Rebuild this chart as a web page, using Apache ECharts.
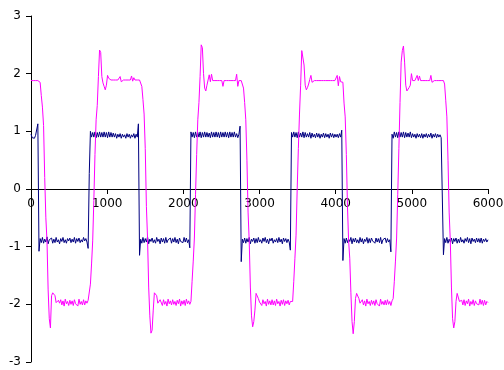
<!DOCTYPE html>
<html>
<head>
<meta charset="utf-8">
<script src="https://cdn.jsdelivr.net/npm/echarts@6/dist/echarts.min.js"></script>
<style>
html,body{margin:0;padding:0;background:#fff;}
#chart{width:504px;height:370px;}
</style>
</head>
<body>
<div id="chart"></div>
<script>
// sample spacing of the traces along x (units)
var STEP = 15;
var xTicks = [0, 1000, 2000, 3000, 4000, 5000, 6000];
var yTicks = [-3, -2, -1, 0, 1, 2, 3];

// navy trace (square wave with ripple), one value every STEP units from x=0
var navyValues = [
0.95,0.89,0.92,0.88,0.93,0.91,1.13,
-1.08,
-0.86,-0.93,-0.84,-0.94,-0.87,-0.92,-0.83,-0.95,-0.88,-0.91,
-0.85,-0.94,-0.87,-0.93,-0.84,-0.92,-0.88,-0.95,-0.86,-0.91,
-0.84,-0.93,-0.88,-0.94,-0.86,-0.90,-0.85,-0.93,-0.87,-0.92,
-0.84,-0.94,-0.86,-0.91,-0.85,-0.93,-0.88,-0.92,-0.84,-0.90,
-0.86,-0.92,-1.03,
0.27,
1.00,0.90,0.98,0.90,0.99,0.89,0.98,0.90,0.99,0.90,
0.98,0.90,0.99,0.90,0.98,0.89,0.99,0.90,0.98,0.90,
0.97,0.90,0.96,0.88,0.95,0.90,0.96,0.88,0.95,0.90,
0.94,0.88,0.96,0.90,0.95,0.88,0.94,0.90,0.96,0.88,
0.95,0.90,
1.13,
-1.15,
-0.87,-0.94,-0.84,-0.93,-0.86,-0.92,-0.83,-0.95,-0.87,-0.91,
-0.85,-0.93,-0.88,-0.94,-0.84,-0.91,-0.87,-0.95,-0.85,-0.92,
-0.86,-0.94,-0.84,-0.93,-0.88,-0.91,-0.85,-0.94,-0.86,-0.92,
-0.84,-0.93,-0.87,-0.95,-0.85,-0.91,-0.88,-0.93,-0.84,-0.92,
-0.85,-0.93,-0.88,
-1.02,
0.99,0.90,0.98,0.89,0.99,0.90,0.98,0.90,0.99,0.89,
0.98,0.90,0.99,0.90,0.98,0.90,0.97,0.89,0.99,0.90,
0.98,0.90,0.99,0.90,0.98,0.89,0.99,0.90,0.98,0.90,
0.99,0.90,0.98,0.89,0.99,0.90,0.98,0.90,0.99,0.90,
0.96,0.89,0.95,
1.09,
-1.26,
-0.87,-0.93,-0.85,-0.94,-0.86,-0.92,-0.84,-0.95,-0.87,-0.91,
-0.85,-0.94,-0.86,-0.93,-0.84,-0.92,-0.88,-0.94,-0.85,-0.91,
-0.84,-0.93,-0.87,-0.95,-0.86,-0.90,-0.85,-0.94,-0.88,-0.92,
-0.86,-0.93,-0.84,-0.92,-0.87,-0.95,-0.85,-0.91,-0.86,-0.93,
-0.87,-0.92,
-1.06,
0.98,0.90,0.99,0.90,0.98,0.89,0.99,0.90,0.97,0.90,
0.99,0.89,0.98,0.90,0.96,0.90,0.98,0.88,0.97,0.90,
0.95,0.89,0.97,0.90,0.96,0.88,0.95,0.90,0.97,0.89,
0.96,0.90,0.95,0.88,0.97,0.90,0.96,0.89,0.95,0.90,
0.95,0.89,0.96,0.90,
1.02,
-1.24,
-0.86,-0.94,-0.85,-0.93,-0.87,-0.91,-0.84,-0.95,-0.86,-0.92,
-0.85,-0.93,-0.88,-0.94,-0.84,-0.92,-0.86,-0.95,-0.87,-0.91,
-0.84,-0.94,-0.86,-0.93,-0.85,-0.90,-0.87,-0.94,-0.85,-0.92,
-0.86,-0.93,-0.84,-0.95,-0.88,-0.91,-0.85,-0.93,-0.86,-0.92,
-0.88,
-1.09,
0.95,0.88,0.99,0.90,0.98,0.89,0.99,0.90,0.98,0.90,
0.99,0.89,0.98,0.90,0.97,0.90,0.99,0.89,0.96,0.90,
0.95,0.88,0.96,0.90,0.95,0.89,0.96,0.88,0.95,0.90,
0.96,0.89,0.95,0.90,0.97,0.88,0.95,0.90,0.96,0.89,
0.95,0.90,0.94,0.89,0.90,
-1.14,
-0.86,-0.93,-0.84,-0.94,-0.87,-0.92,-0.85,-0.95,-0.86,-0.91,
-0.85,-0.94,-0.87,-0.93,-0.84,-0.92,-0.88,-0.94,-0.86,-0.91,
-0.84,-0.93,-0.86,-0.95,-0.85,-0.91,-0.87,-0.93,-0.85,-0.92,
-0.86,-0.93,-0.85,-0.94,-0.87,-0.91,-0.86,-0.92,-0.88
];

// magenta trace (filtered wave with overshoot), one value every STEP units from x=0
var magentaValues = [
1.88,1.88,1.88,1.88,1.88,1.88,1.88,1.88,
1.85,1.62,1.42,1.10,0.20,-0.50,-0.90,-1.75,-2.25,-2.41,-1.85,-1.80,-1.80,-1.85,-1.97,-2.00,-1.93,-1.98,
-1.92,-2.01,-1.94,-2.03,-1.91,-1.99,-1.95,-2.02,-1.93,-2.00,
-1.94,-2.02,-1.92,-1.99,-1.96,-2.03,-1.91,-2.00,-1.95,-2.01,
-1.92,-2.01,-1.94,-1.98,-1.93,-1.95,
-1.65,-1.30,-0.90,-0.20,0.60,1.20,1.45,1.95,2.41,2.37,1.95,1.84,1.78,1.72,1.80,1.97,1.92,1.89,
1.89,1.89,1.89,1.89,1.89,1.89,1.89,1.89,1.95,1.86,
1.89,1.89,1.89,1.89,1.89,1.89,1.89,1.89,1.96,1.87,1.93,
1.89,1.89,1.89,1.89,1.89,1.88,
1.78,1.55,1.30,0.70,-0.30,-0.85,-1.70,-2.20,-2.50,-2.45,-2.10,-1.80,-1.80,-1.85,-1.98,-2.00,-1.92,
-1.94,-2.02,-1.92,-2.00,-1.95,-2.03,-1.91,-1.99,-1.94,-2.01,
-1.92,-2.00,-1.95,-2.02,-1.93,-1.99,-1.91,-2.03,-1.94,-2.00,
-1.93,-2.02,-1.91,-1.99,-1.94,-2.00,-1.95,
-1.60,-1.25,-0.85,-0.10,0.60,1.20,1.50,1.95,2.50,2.45,2.00,1.75,1.70,1.80,1.89,1.98,1.86,1.99,
1.88,1.88,1.88,1.88,1.88,1.88,1.88,1.88,1.88,1.78,
1.88,1.88,1.88,1.88,1.88,1.88,1.88,1.88,1.88,1.88,1.88,
1.99,1.78,1.88,1.88,1.88,
1.88,1.75,1.50,1.20,0.50,-0.40,-0.90,-1.70,-2.20,-2.39,-2.30,-2.10,-1.81,-1.81,-1.90,-1.96,
-1.93,-2.02,-1.92,-1.99,-1.95,-2.03,-1.91,-2.00,-1.94,-2.01,
-1.92,-2.01,-1.94,-2.02,-1.91,-1.99,-1.95,-2.03,-1.93,-2.00,
-1.92,-2.02,-1.94,-1.99,-1.93,-2.01,-1.95,-1.98,-1.95,
-1.60,-1.20,-0.80,0.00,0.70,1.30,1.80,2.40,2.38,2.15,1.80,1.72,1.76,1.82,1.90,1.97,1.85,1.88,
1.88,1.88,1.88,1.88,1.88,1.88,1.88,1.88,1.88,1.88,
1.88,1.88,1.88,1.88,1.88,1.88,1.88,1.88,1.88,1.88,
1.97,1.79,1.95,1.86,1.88,1.85,
1.49,1.25,0.60,-0.30,-0.90,-1.20,-1.80,-2.30,-2.51,-2.30,-1.90,-1.81,-1.81,-1.90,-1.98,-1.95,
-1.92,-2.01,-1.94,-2.03,-1.91,-1.99,-1.95,-2.02,-1.93,-2.00,
-1.94,-2.02,-1.92,-1.99,-1.96,-2.03,-1.91,-2.00,-1.95,-2.01,
-1.93,-2.01,-1.92,-2.00,-1.95,-2.02,-1.94,-1.90,
-1.60,-1.25,-0.85,-0.10,0.70,1.50,2.20,2.40,2.48,2.20,1.80,1.70,1.72,1.76,1.80,2.00,1.88,
1.88,1.88,1.88,1.97,1.88,1.96,
1.88,1.88,1.88,1.88,1.88,1.88,1.88,1.88,1.88,1.97,1.85,
1.88,1.88,1.88,1.88,1.88,1.88,1.88,1.88,1.88,1.88,1.82,
1.54,1.25,0.50,-0.40,-0.90,-1.70,-2.25,-2.41,-2.30,-1.95,-1.81,-1.81,-1.95,-1.98,
-1.93,-2.01,-1.92,-2.02,-1.94,-1.99,-1.91,-2.03,-1.95,-2.00,
-1.92,-2.02,-1.94,-1.99,-1.96,-2.01,-1.91,-2.00,-1.93,-2.02,
-1.93,-2.01,-1.95,-1.97
];

function toPoints(vals) {
  return vals.map(function (v, i) { return [i * STEP, v]; });
}
function plain(v) { return String(v); }

var GRID_TOP = 16, GRID_BOTTOM = 8, H = 370;
var plotH = H - GRID_TOP - GRID_BOTTOM;
// distance of the y=0 line above the plot bottom, via the y range
var zeroOffset = plotH * (0 - yTicks[0]) / (yTicks[yTicks.length - 1] - yTicks[0]);

var chart = echarts.init(document.getElementById('chart'), null, {renderer: 'canvas'});
var font = 'DejaVu Sans';
chart.setOption({
  animation: false,
  backgroundColor: '#ffffff',
  grid: {left: 31, right: 16, top: GRID_TOP, bottom: GRID_BOTTOM, containLabel: false, outerBoundsMode: 'none'},
  xAxis: {
    type: 'value', position: 'bottom', offset: -zeroOffset,
    min: xTicks[0], max: xTicks[xTicks.length - 1], interval: xTicks[1] - xTicks[0],
    axisLine: {show: true, onZero: false, lineStyle: {color: '#000', width: 1}},
    axisTick: {show: true, inside: false, length: 5, lineStyle: {color: '#000'}},
    axisLabel: {color: '#000', fontFamily: font, fontSize: 12, margin: 9, formatter: plain},
    splitLine: {show: false}
  },
  yAxis: {
    type: 'value',
    min: yTicks[0], max: yTicks[yTicks.length - 1], interval: yTicks[1] - yTicks[0],
    axisLine: {show: true, onZero: false, lineStyle: {color: '#000', width: 1}},
    axisTick: {show: true, inside: false, length: 5, lineStyle: {color: '#000'}},
    axisLabel: {color: '#000', fontFamily: font, fontSize: 12, margin: 10, formatter: plain},
    splitLine: {show: false}
  },
  series: [
    {
      name: 'navy', type: 'line', data: toPoints(navyValues),
      showSymbol: false, symbol: 'none',
      lineStyle: {color: '#000080', width: 1}, itemStyle: {color: '#000080'}
    },
    {
      name: 'magenta', type: 'line', data: toPoints(magentaValues),
      showSymbol: false, symbol: 'none',
      lineStyle: {color: '#ff00ff', width: 1}, itemStyle: {color: '#ff00ff'}
    }
  ]
});
</script>
</body>
</html>
